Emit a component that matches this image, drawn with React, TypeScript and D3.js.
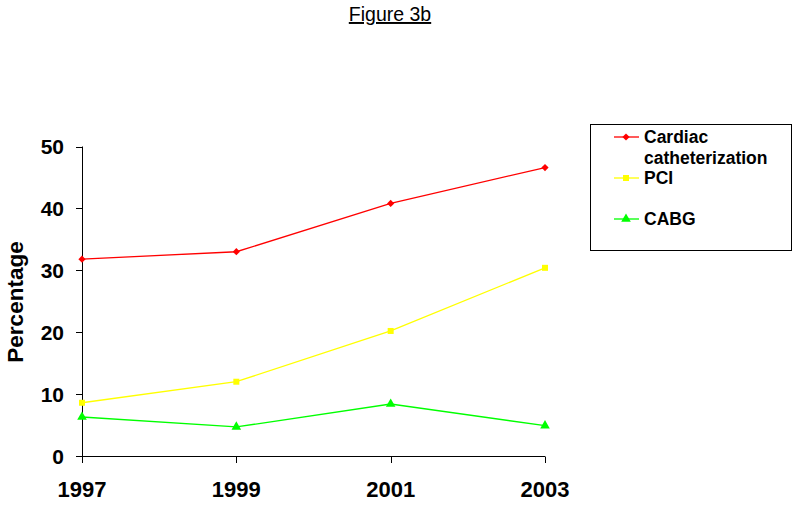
import React, { useEffect, useRef } from 'react'
import * as d3 from 'd3'

// data
const years = [1997, 1999, 2001, 2003]
const cardiacCath = [31.8, 33.0, 40.8, 46.6]
const pci = [8.6, 12.0, 20.2, 30.4]
const cabg = [6.3, 4.7, 8.4, 4.9]
const yTicks = [0, 10, 20, 30, 40, 50]

const seriesNames = ['Cardiac catheterization', 'PCI', 'CABG']
const seriesColors = ['#ff0000', '#ffff00', '#00ff00']
const seriesSymbols = [d3.symbolSquare, d3.symbolSquare, d3.symbolTriangle]
const seriesRotate = [45, 0, 0]
const seriesSize = [26, 36, 40]

const W = 800
const H = 508
const FONT = 'Liberation Sans, Arial, sans-serif'

const App = () => {
    const ref = useRef<SVGSVGElement>(null)

    useEffect(() => {
        const svg = d3.select(ref.current)
        svg.selectAll('*').remove()

        const xScale = d3.scalePoint<number>().domain(years).range([82, 545])
        const yScale = d3.scaleLinear().domain([0, 50]).range([456, 146.5])

        svg.append('rect').attr('width', W).attr('height', H).attr('fill', 'white')

        // title
        svg.append('text')
           .attr('x', 390).attr('y', 21)
           .attr('text-anchor', 'middle')
           .attr('font-family', FONT)
           .attr('font-size', 19.5)
           .attr('text-decoration', 'underline')
           .text('Figure 3b')

        // y axis
        const yAxis = svg.append('g')
        yAxis.append('line')
             .attr('x1', 82.5).attr('x2', 82.5)
             .attr('y1', yScale(50)).attr('y2', yScale(0))
             .attr('stroke', '#000')
        yAxis.selectAll('line.tick')
             .data(yTicks)
             .join('line')
             .attr('class', 'tick')
             .attr('x1', 76).attr('x2', 82.5)
             .attr('y1', d => Math.round(yScale(d)) + 0.5)
             .attr('y2', d => Math.round(yScale(d)) + 0.5)
             .attr('stroke', '#000')
        yAxis.selectAll('text')
             .data(yTicks)
             .join('text')
             .attr('x', 64)
             .attr('y', d => yScale(d) + 7.5)
             .attr('text-anchor', 'end')
             .attr('font-family', FONT)
             .attr('font-weight', 'bold')
             .attr('font-size', 21)
             .text(d => d)

        svg.append('text')
           .attr('transform', 'translate(23, 302) rotate(-90)')
           .attr('text-anchor', 'middle')
           .attr('font-family', FONT)
           .attr('font-weight', 'bold')
           .attr('font-size', 22.5)
           .text('Percentage')

        // x axis
        const xAxis = svg.append('g')
        xAxis.append('line')
             .attr('x1', 76).attr('x2', 545)
             .attr('y1', 456.5).attr('y2', 456.5)
             .attr('stroke', '#000')
        xAxis.selectAll('line.tick')
             .data(years)
             .join('line')
             .attr('class', 'tick')
             .attr('x1', d => Math.round(xScale(d)!) + 0.5)
             .attr('x2', d => Math.round(xScale(d)!) + 0.5)
             .attr('y1', 456.5).attr('y2', 463)
             .attr('stroke', '#000')
        xAxis.selectAll('text')
             .data(years)
             .join('text')
             .attr('x', d => xScale(d)!)
             .attr('y', 497)
             .attr('text-anchor', 'middle')
             .attr('font-family', FONT)
             .attr('font-weight', 'bold')
             .attr('font-size', 22)
             .text(d => d)

        // series
        const allSeries = [cardiacCath, pci, cabg]
        const line = d3.line<number>()
                       .x((d, i) => xScale(years[i])!)
                       .y(d => yScale(d))

        allSeries.forEach((vals, s) => {
            const g = svg.append('g')
            g.append('path')
             .attr('d', line(vals))
             .attr('fill', 'none')
             .attr('stroke', seriesColors[s])
             .attr('stroke-width', 1.3)
            g.selectAll('path.pt')
             .data(vals)
             .join('path')
             .attr('class', 'pt')
             .attr('d', d3.symbol().type(seriesSymbols[s]).size(seriesSize[s]))
             .attr('transform', (d, i) => 'translate(' + xScale(years[i]) + ',' + yScale(d) + ') rotate(' + seriesRotate[s] + ')')
             .attr('fill', seriesColors[s])
        })

        // legend
        const legend = svg.append('g')
        legend.append('rect')
              .attr('x', 590.5).attr('y', 124.5)
              .attr('width', 201).attr('height', 126)
              .attr('fill', 'white')
              .attr('stroke', '#000')
        const legendRows = [137, 178, 219]
        legendRows.forEach((y, s) => {
            legend.append('line')
                  .attr('x1', 614).attr('x2', 639)
                  .attr('y1', y).attr('y2', y)
                  .attr('stroke', seriesColors[s])
                  .attr('stroke-width', 1.3)
            legend.append('path')
                  .attr('d', d3.symbol().type(seriesSymbols[s]).size(seriesSize[s])())
                  .attr('transform', 'translate(626,' + y + ') rotate(' + seriesRotate[s] + ')')
                  .attr('fill', seriesColors[s])
        })
        const legendText = [
            { t: 'Cardiac', y: 143 },
            { t: 'catheterization', y: 164 },
            { t: 'PCI', y: 184 },
            { t: 'CABG', y: 225 },
        ]
        legend.selectAll('text')
              .data(legendText)
              .join('text')
              .attr('x', 644)
              .attr('y', d => d.y)
              .attr('font-family', FONT)
              .attr('font-weight', 'bold')
              .attr('font-size', 17.5)
              .text(d => d.t)
    }, [])

    return (
        <div>
            <svg ref={ref} width={W} height={H} style={{ position: 'absolute', left: 0, top: 0 }}></svg>
        </div>
    )
}

export default App
